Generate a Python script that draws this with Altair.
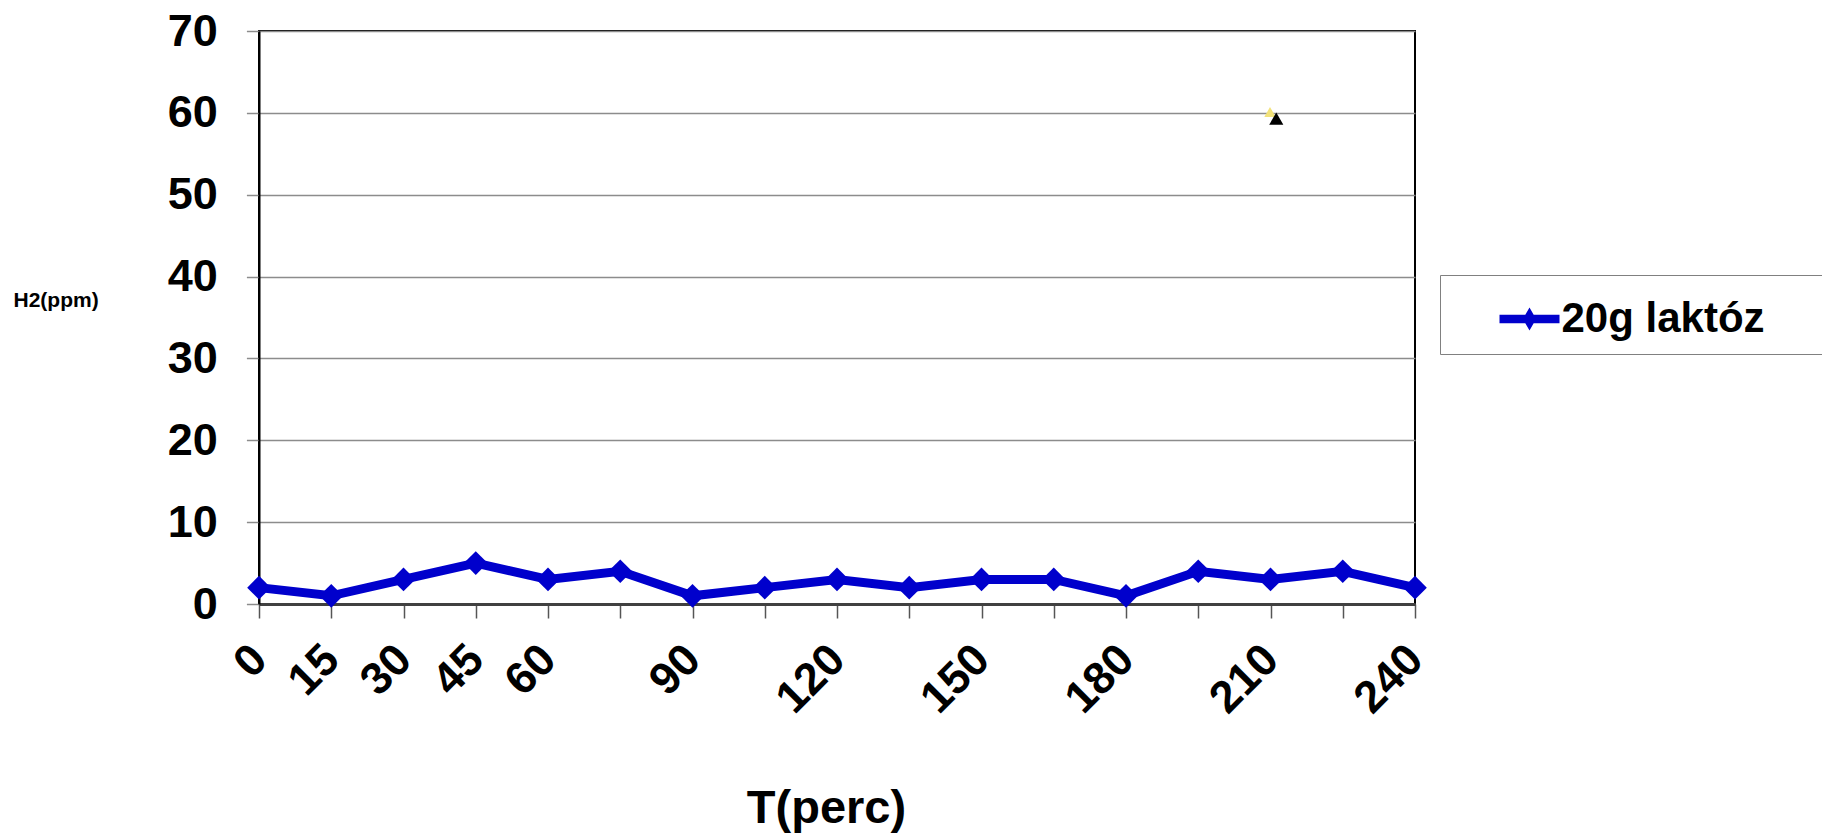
import altair as alt
import pandas as pd

# ---- data ----
times = [0, 15, 30, 45, 60, 75, 90, 105, 120, 135, 150, 165, 180, 195, 210, 225, 240]
h2_ppm = [2, 1, 3, 5, 3, 4, 1, 2, 3, 2, 3, 3, 1, 4, 3, 4, 2]
series_name = "20g laktóz"

label_times = [0, 15, 30, 45, 60, 90, 120, 150, 180, 210, 240]
tick_times = [i * 7.5 for i in range(33)]
y_ticks = [0, 10, 20, 30, 40, 50, 60, 70]

# stray marker pair near (210, 60)
black_x = [211.2]
black_y = [59.3]
yellow_x = [209.9]
yellow_y = [60.1]

FONT = "Liberation Sans"
BLUE = "#0000CC"

df = pd.DataFrame({"T": times, "H2": h2_ppm, "series": [series_name] * len(times)})
df_black = pd.DataFrame({"T": black_x, "H2": black_y})
df_yellow = pd.DataFrame({"T": yellow_x, "H2": yellow_y})

label_list = "[" + ",".join(str(v) for v in label_times) + "]"

x_enc = alt.X(
    "T:Q",
    scale=alt.Scale(domain=[0, 240], nice=False, zero=False),
    axis=alt.Axis(
        values=tick_times,
        labelExpr=f"indexof({label_list}, datum.value) >= 0 ? '' + datum.value : ''",
        labelOverlap=False,
        labelFlush=False,
        labelBound=False,
        labelAngle=-45,
        labelAlign="right",
        labelBaseline="middle",
        labelPadding=34,
        labelFont=FONT,
        labelFontSize=45,
        labelFontWeight="bold",
        labelColor="black",
        tickSize=14,
        tickColor="#555555",
        tickWidth=1.5,
        domainColor="#404040",
        domainWidth=3,
        grid=False,
        title="T(perc)",
        titleFont=FONT,
        titleFontSize=47,
        titleFontWeight="bold",
        titleColor="black",
        titleAngle=0,
        titleAlign="center",
        titleBaseline="alphabetic",
        titleX=567,
        titleY=218,
    ),
)

y_enc = alt.Y(
    "H2:Q",
    scale=alt.Scale(domain=[0, 70], nice=False, zero=True),
    axis=alt.Axis(
        values=y_ticks,
        labelFont=FONT,
        labelFontSize=45,
        labelFontWeight="bold",
        labelColor="black",
        labelPadding=29,
        labelBaseline="middle",
        tickSize=12.6,
        tickColor="#8c8c8c",
        tickWidth=1.5,
        domainColor="black",
        domainWidth=2,
        grid=True,
        gridColor="#8c8c8c",
        gridWidth=1.5,
        title="H2(ppm)",
        titleFont=FONT,
        titleFontSize=21,
        titleFontWeight="bold",
        titleColor="black",
        titleAngle=0,
        titleAlign="left",
        titleBaseline="middle",
        titleX=-246,
        titleY=269,
    ),
)

line = alt.Chart(df).mark_line(color=BLUE, strokeWidth=9).encode(x=x_enc, y=y_enc)

legend_symbol = "M-1,-0.14L1,-0.14L1,0.14L-1,0.14Z M0,-0.38L0.22,0L0,0.38L-0.22,0Z"

points = alt.Chart(df).mark_point(
    shape="diamond", filled=True, size=560, opacity=1, strokeWidth=0
).encode(
    x="T:Q",
    y="H2:Q",
    color=alt.Color(
        "series:N",
        scale=alt.Scale(domain=[series_name], range=[BLUE]),
        legend=alt.Legend(
            # invisible spacer title: makes the legend box run past the right edge
            title="MMMMMM",
            titleOrient="right",
            titleOpacity=0,
            titleFontSize=10,
            titlePadding=0,
            orient="none",
            legendX=1181,
            legendY=244,
            strokeColor="#808080",
            fillColor="white",
            padding=14,
            symbolType=legend_symbol,
            symbolSize=3600,
            symbolStrokeWidth=0,
            symbolOffset=45.5,
            labelFont=FONT,
            labelFontSize=42,
            labelFontWeight="bold",
            labelColor="black",
            labelLimit=2000,
            labelOffset=2,
        ),
    ),
)

yellow = alt.Chart(df_yellow).mark_point(
    shape="triangle-up", filled=True, size=130, opacity=1, color="#F2E27A", strokeWidth=0
).encode(x="T:Q", y="H2:Q")

black = alt.Chart(df_black).mark_point(
    shape="triangle-up", filled=True, size=200, opacity=1, color="black", strokeWidth=0
).encode(x="T:Q", y="H2:Q")

chart = (
    alt.layer(line, points, yellow, black)
    .properties(
        width=1156,
        height=573,
        padding={"left": 259, "top": 31, "right": 407, "bottom": 230},
        autosize=alt.AutoSizeParams(type="none"),
        background="white",
    )
    .configure_view(stroke="black", strokeWidth=2)
)

chart.save("out.html", embed_options={"renderer": "svg", "actions": False})
